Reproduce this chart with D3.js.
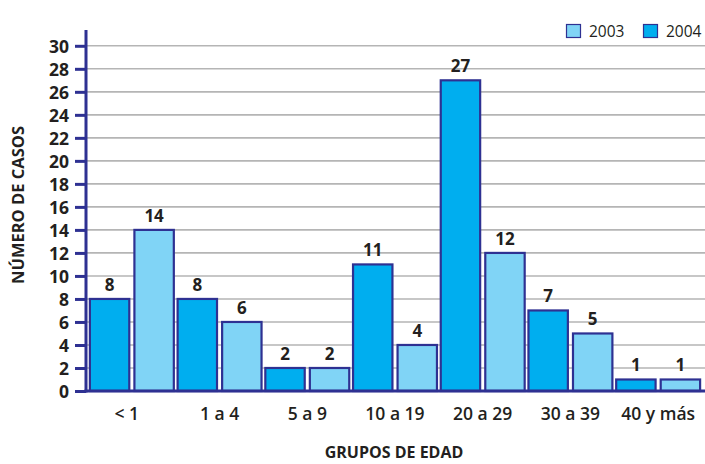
<!DOCTYPE html>
<html>
<head>
<meta charset="utf-8">
<script src="https://cdn.jsdelivr.net/npm/d3@7"></script>
<style>
  html, body { margin: 0; padding: 0; background: #fff; }
  svg { display: block; font-family: "Open Sans", "Noto Sans", sans-serif; }
</style>
</head>
<body>
<svg id="chart" width="705" height="464"></svg>
<script>
// Casos por grupo de edad, 2004 y 2003
const groups = ["< 1", "1 a 4", "5 a 9", "10 a 19", "20 a 29", "30 a 39", "40 y más"];
const series = ["2004", "2003"];
const values2004 = [8, 8, 2, 11, 27, 7, 1];
const values2003 = [14, 6, 2, 4, 12, 5, 1];
const yTicks = [0, 2, 4, 6, 8, 10, 12, 14, 16, 18, 20, 22, 24, 26, 28, 30];
const legendOrder = ["2003", "2004"];

const colors = { "2004": "#00aeef", "2003": "#80d4f6" };
const navy = "#2e3192";

const svg = d3.select("#chart");
const W = 705, H = 464;
const plotLeft = 86, plotRight = 702, plotTop = 30, plotBottom = 391;

const y = d3.scaleLinear().domain([0, 30]).range([plotBottom, 45.8]);
const x0 = d3.scaleBand().domain(groups).range([88, plotRight]).paddingInner(0).paddingOuter(0);
const x1 = d3.scaleBand().domain(series).range([0, x0.bandwidth()]).paddingInner(0.07).paddingOuter(0.02);

const rows = groups.map((g, i) => ({ group: g, vals: [
  { key: "2004", v: values2004[i] },
  { key: "2003", v: values2003[i] }
]}));

// grid lines
svg.append("g")
  .selectAll("line")
  .data(yTicks.filter(d => d > 0))
  .join("line")
  .attr("x1", plotLeft).attr("x2", W)
  .attr("y1", d => y(d)).attr("y2", d => y(d))
  .attr("stroke", "#b5b5b5").attr("stroke-width", 1.6);

// bars
const gGroups = svg.append("g").selectAll("g")
  .data(rows).join("g")
  .attr("transform", d => `translate(${x0(d.group)},0)`);

gGroups.selectAll("rect")
  .data(d => d.vals).join("rect")
  .attr("x", d => x1(d.key) + 1)
  .attr("width", x1.bandwidth() - 2)
  .attr("y", d => y(d.v))
  .attr("height", d => y(0) - y(d.v))
  .attr("fill", d => colors[d.key])
  .attr("stroke", navy).attr("stroke-width", 2.2);

gGroups.selectAll("text")
  .data(d => d.vals).join("text")
  .attr("x", d => x1(d.key) + x1.bandwidth() / 2)
  .attr("y", d => y(d.v) - 8)
  .attr("text-anchor", "middle")
  .attr("font-size", 17).attr("font-weight", 700)
  .attr("fill", "#231f20")
  .text(d => d.v);

// y axis
const yAxis = d3.axisLeft(y).tickValues(yTicks).tickSize(11).tickPadding(6);
const ya = svg.append("g").attr("transform", `translate(${plotLeft},0)`).call(yAxis);
ya.select(".domain").remove();
ya.selectAll(".tick line").attr("stroke", navy).attr("stroke-width", 3);
ya.selectAll(".tick text")
  .attr("font-family", "'Open Sans', sans-serif")
  .attr("font-size", 17.5).attr("font-weight", 700)
  .attr("fill", "#231f20")
  .attr("dy", "0.36em");

svg.append("line")
  .attr("x1", plotLeft).attr("x2", plotLeft)
  .attr("y1", plotTop).attr("y2", plotBottom + 1.5)
  .attr("stroke", navy).attr("stroke-width", 3);

// baseline
svg.append("line")
  .attr("x1", plotLeft - 1.5).attr("x2", W)
  .attr("y1", plotBottom).attr("y2", plotBottom)
  .attr("stroke", navy).attr("stroke-width", 3);

// x category labels
svg.append("g").selectAll("text")
  .data(groups).join("text")
  .attr("x", d => x0(d) + x0.bandwidth() / 2 - (d === "< 1" ? 5 : 0))
  .attr("y", 420)
  .attr("text-anchor", "middle")
  .attr("font-size", 17.5).attr("font-weight", 600)
  .attr("fill", "#231f20")
  .text(d => d);

// axis titles
svg.append("text")
  .attr("x", 394).attr("y", 458)
  .attr("text-anchor", "middle")
  .attr("font-size", 16).attr("font-weight", 700)
  .attr("fill", "#231f20")
  .text("GRUPOS DE EDAD");

svg.append("text")
  .attr("transform", "translate(24,205) rotate(-90)")
  .attr("text-anchor", "middle")
  .attr("font-size", 16.5).attr("font-weight", 700)
  .attr("fill", "#231f20")
  .text("NÚMERO DE CASOS");

// legend
const legendX = { "2003": 566, "2004": 643 };
const lg = svg.append("g").selectAll("g")
  .data(legendOrder).join("g")
  .attr("transform", d => `translate(${legendX[d]},24)`);
lg.append("rect")
  .attr("x", 0.5).attr("y", 0.5).attr("width", 14).attr("height", 13)
  .attr("fill", d => colors[d]).attr("stroke", navy).attr("stroke-width", 1.2);
lg.append("text")
  .attr("x", 23).attr("y", 12.5)
  .attr("font-size", 15.5).attr("font-weight", 400)
  .attr("fill", "#231f20")
  .text(d => d);
</script>
</body>
</html>
